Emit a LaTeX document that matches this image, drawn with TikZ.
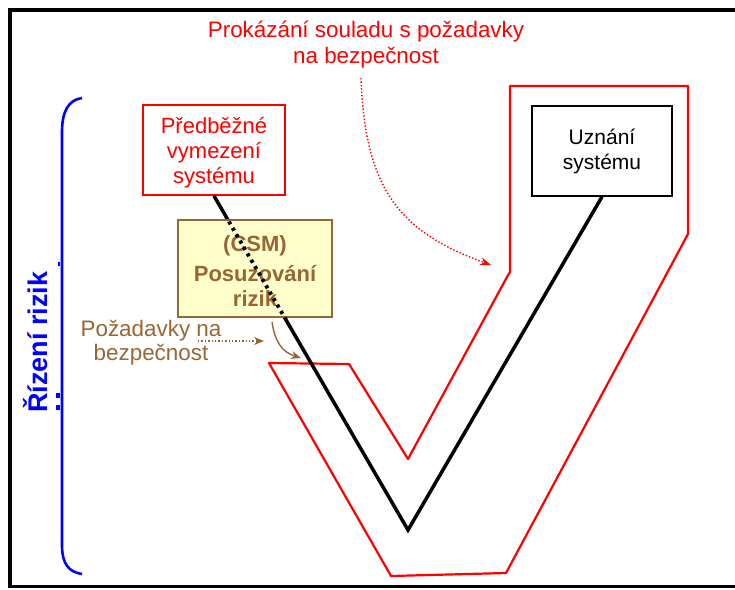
\documentclass[tikz,border=0pt]{standalone}
\usepackage{fontspec}
\setmainfont{Liberation Sans}
\usetikzlibrary{arrows.meta}
\definecolor{vred}{RGB}{255,0,0}
\definecolor{vblue}{RGB}{0,0,255}
\definecolor{csmbrown}{RGB}{153,102,51}
\definecolor{csmfill}{RGB}{255,255,204}
\tikzset{
  framerule/.style={line width=4pt, black},
  redbox/.style={draw=vred, line width=1.8pt, fill=white,
    minimum width=142pt, minimum height=90pt, inner sep=0pt},
  redboxtext/.style={text=vred, align=center, inner sep=0pt,
    font=\fontsize{22}{25}\selectfont},
  blackbox/.style={draw=black, line width=1.4pt, fill=white, align=center,
    minimum width=140pt, minimum height=90pt, inner sep=0pt,
    font=\fontsize{21}{25}\selectfont},
  csmbox/.style={draw=csmbrown, line width=2.2pt, fill=csmfill,
    minimum width=154pt, minimum height=97pt, inner sep=0pt},
  csmtext/.style={text=csmbrown, align=center, inner sep=0pt,
    font=\bfseries\fontsize{22}{25}\selectfont},
  redtext/.style={text=vred, align=center, font=\fontsize{22.4}{26}\selectfont},
  browntext/.style={text=csmbrown, align=center, font=\fontsize{22.4}{24}\selectfont},
  vline/.style={line width=3.5pt, black},
  vdots/.style={line width=3.8pt, black, dash pattern=on 3.2pt off 4.2pt},
  redoutline/.style={draw=vred, line width=2.2pt, line join=round},
  brownarrow/.style={draw=csmbrown, line width=1.4pt, -{Stealth[length=10pt,width=8pt]}},
  reddotarrow/.style={draw=vred, line width=1.4pt, dotted, -{Stealth[length=11pt,width=8pt]}},
  bracket/.style={draw=vblue, line width=2.6pt}
}
\begin{document}
\begin{tikzpicture}[x=1pt,y=-1pt]
\useasboundingbox (0,0) rectangle (735,589);

% outer frame (top, left, bottom)
\draw[framerule] (8,10) -- (735,10);
\draw[framerule] (10,8) -- (10,588);
\draw[framerule, line width=3pt] (8,586.5) -- (735,586.5);

% red V-shaped band
\draw[redoutline] (269,363) -- (349,364) -- (408,459) -- (507,277) -- (510,272)
  -- (510,86) -- (688,86) -- (688,234) -- (506,573) -- (391,576) -- cycle;

% boxes at the two upper ends of the V
\node[redbox] (pre) at (214,150) {};
\node[redboxtext] (pretext) at (214,153) {Předběžné\\vymezení\\systému};
\node[blackbox] (uzn) at (602,151) {Uznání\\systému};

% the V line
\coordinate (vbot) at (408,530);
\draw[vline, line join=miter] (pre.south) -- (vbot) -- (uzn.south);

% risk assessment box over the line
\node[csmbox] (csm) at (255,268.5) {};
\node[csmtext] (csmtext) at (255,271) {(CSM)\\[5pt]Posuzování\\rizik};
\begin{scope}
  \clip (csm.south west) rectangle (csm.north east);
  \draw[vdots] (pre.south) -- (vbot);
\end{scope}

% safety requirements label and its arrows
\node[browntext] (req) at (151,343) {Požadavky na\\bezpečnost};
\coordinate (reqA) at (198,341);
\coordinate (reqB) at (264,341);
\draw[brownarrow, dotted, line width=1.5pt] (reqA) -- (reqB);
\coordinate (csmOut) at (272,322);
\coordinate (csmIn) at (301,358);
\draw[brownarrow] (csmOut) .. controls (275,342) and (282,352) .. (csmIn);

% compliance label and its arrow
\node[redtext] (proof) at (366,45) {Prokázání souladu s požadavky\\na bezpečnost};
\coordinate (proofA) at (361,78);
\coordinate (proofB) at (491,265);
\draw[reddotarrow] (proofA) .. controls (365,190) and (400,232) .. (proofB);

% risk management bracket
\draw[bracket] (82,98) .. controls (68,100) and (62,112) .. (62,132) -- (62,545)
  .. controls (62,563) and (68,572) .. (82,574);
\node[text=vblue, rotate=90, font=\bfseries\fontsize{27}{30}\selectfont] (rm) at (36,342) {Řízení rizik};
\fill[vblue] (58,262) rectangle (60,266);
\fill[vblue] (55.5,393) rectangle (59.5,398);
\fill[vblue] (55.5,405) rectangle (59.5,410);
\end{tikzpicture}
\end{document}
